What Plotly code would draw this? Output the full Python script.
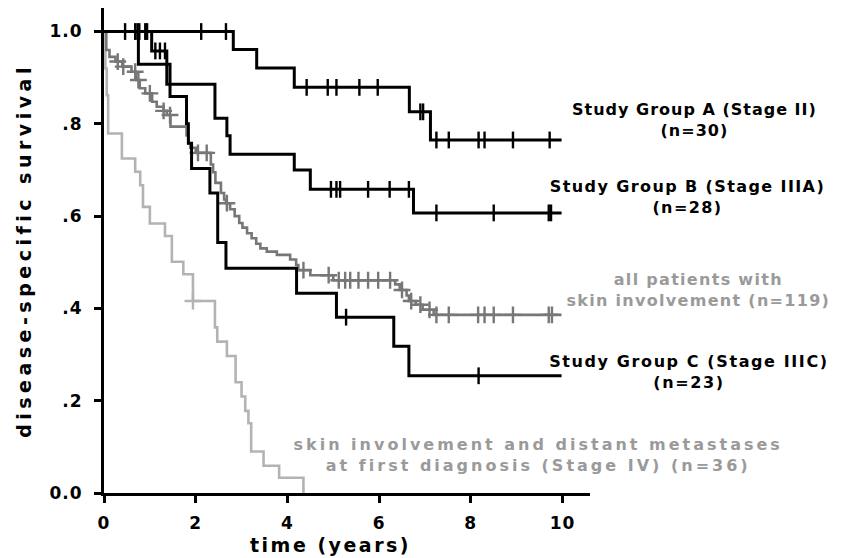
import numpy as np
import plotly.graph_objects as go

# ---------------- data ----------------
# Study Group A (Stage II), n=30
a_times = [2.82, 3.33, 4.15, 6.66, 7.12]
a_surv = [0.961, 0.921, 0.879, 0.826, 0.765]
a_cens = [0.46, 0.68, 0.73, 0.77, 0.90, 0.94, 2.12, 2.66, 4.42, 4.88, 5.07, 5.57, 5.97,
          6.90, 6.96, 7.25, 7.52, 8.17, 8.30, 8.92, 9.72]
a_end = 9.98

# Study Group B (Stage IIIA), n=28
b_times = [1.04, 1.37, 2.42, 2.68, 2.75, 4.15, 4.50, 6.75]
b_surv = [0.958, 0.886, 0.812, 0.774, 0.734, 0.700, 0.658, 0.607]
b_cens = [1.12, 1.22, 1.33, 4.95, 5.07, 5.15, 5.76, 6.23, 6.65, 7.25, 8.50, 9.70, 9.75]
b_end = 9.98

# Study Group C (Stage IIIC), n=23
c_times = [0.75, 1.44, 1.80, 1.84, 1.91, 2.31, 2.48, 2.66, 4.20, 5.07, 6.32, 6.65]
c_surv = [0.929, 0.859, 0.800, 0.758, 0.703, 0.650, 0.543, 0.487, 0.433, 0.381, 0.318, 0.254]
c_cens = [5.28, 8.17]
c_end = 9.98

# all patients with skin involvement, n=119
p_times = [0.05, 0.12, 0.25, 0.40, 0.60, 0.70, 0.78, 0.90, 1.05, 1.15, 1.30, 1.37, 1.45,
           1.80, 1.84, 1.88, 2.00, 2.33, 2.38, 2.43, 2.55, 2.62, 2.66, 2.75, 2.85, 2.95,
           3.02, 3.12, 3.22, 3.32, 3.41, 3.55, 3.77, 4.06, 4.19, 4.24, 4.50, 5.00, 6.35,
           6.45, 6.60, 6.65, 6.80, 6.95, 7.19]
p_surv = [0.960, 0.945, 0.935, 0.924, 0.913, 0.895, 0.877, 0.866, 0.848, 0.837, 0.828,
          0.819, 0.794, 0.775, 0.758, 0.748, 0.737, 0.712, 0.695, 0.672, 0.650, 0.636,
          0.628, 0.615, 0.600, 0.585, 0.575, 0.563, 0.552, 0.540, 0.530, 0.523, 0.516,
          0.506, 0.494, 0.483, 0.472, 0.461, 0.452, 0.440, 0.428, 0.416, 0.408, 0.397,
          0.386]
p_cens = [0.30, 0.42, 0.68, 0.75, 1.00, 1.30, 1.44, 2.05, 2.24, 2.68, 4.35, 4.90, 5.12,
          5.26, 5.37, 5.55, 5.76, 5.98, 6.24, 6.50, 6.70, 6.90, 7.10, 7.25, 7.52, 8.16,
          8.30, 8.50, 8.92, 9.70, 9.77]
p_end = 9.98

# skin involvement and distant metastases at first diagnosis (Stage IV), n=36
d_times = [0.03, 0.06, 0.09, 0.39, 0.68, 0.79, 0.85, 1.00, 1.33, 1.48, 1.73, 1.94, 2.42,
           2.47, 2.68, 2.87, 3.00, 3.08, 3.15, 3.21, 3.48, 3.82, 4.35]
d_surv = [0.920, 0.862, 0.779, 0.725, 0.696, 0.667, 0.620, 0.584, 0.557, 0.501, 0.474,
          0.416, 0.359, 0.328, 0.297, 0.240, 0.209, 0.178, 0.151, 0.090, 0.059, 0.033,
          0.000]
d_cens = [1.94]
d_end = 4.35

x_ticks = [0, 2, 4, 6, 8, 10]
y_ticks = [0.0, 0.2, 0.4, 0.6, 0.8, 1.0]
y_ticklabels = ["0.0", ".2", ".4", ".6", ".8", "1.0"]

X_MAX = 10.6
Y_MAX = 1.051

# label text, centre position (time, survival), colour
labels = [
    ("Study Group A (Stage II)<br>(n=30)", 12.87, 0.808, "black"),
    ("Study Group B (Stage IIIA)<br>(n=28)", 12.72, 0.641, "black"),
    ("all patients with<br>skin involvement (n=119)", 12.97, 0.440, "#9a9a9a"),
    ("Study Group C (Stage IIIC)<br>(n=23)", 12.77, 0.262, "black"),
    ("skin involvement and distant metastases<br>at first diagnosis (Stage IV) (n=36)", 9.47, 0.082, "#9a9a9a"),
]
x_title = ("time (years)", 4.95, -0.112)

# ---------------- helpers ----------------
def step_path(times, surv, end):
    xs = [0.0] + list(times)
    ys = [1.0] + list(surv)
    if end > xs[-1]:
        xs.append(end)
        ys.append(ys[-1])
    return xs, ys

def surv_at(times, surv, t):
    idx = np.searchsorted(np.array(times), t, side="right")
    vals = [1.0] + list(surv)
    return vals[idx]

FONT = "DejaVu Sans"
fig = go.Figure()

curves = [
    (d_times, d_surv, d_cens, d_end, "#b3b3b3", 2.6, "cross-thin-open"),
    (p_times, p_surv, p_cens, p_end, "#777777", 2.6, "cross-thin-open"),
    (c_times, c_surv, c_cens, c_end, "black", 3.0, "line-ns-open"),
    (b_times, b_surv, b_cens, b_end, "black", 3.0, "line-ns-open"),
    (a_times, a_surv, a_cens, a_end, "black", 3.0, "line-ns-open"),
]
for times, surv, cens, end, col, lw, sym in curves:
    xs, ys = step_path(times, surv, end)
    fig.add_trace(go.Scatter(x=xs, y=ys, mode="lines", line=dict(color=col, width=lw, shape="hv"),
                             hoverinfo="skip", showlegend=False, cliponaxis=False))
    cy = [surv_at(times, surv, t) for t in cens]
    fig.add_trace(go.Scatter(x=cens, y=cy, mode="markers",
                             marker=dict(symbol=sym, size=12, color=col, line=dict(color=col, width=2.4)),
                             hoverinfo="skip", showlegend=False, cliponaxis=False))

for text, x, y, col in labels:
    fig.add_annotation(x=x / X_MAX, y=y / Y_MAX, xref="paper", yref="paper", text=text,
                       showarrow=False, xanchor="center", yanchor="middle", align="center",
                       font=dict(family=FONT, size=16, color=col, weight="bold"))
fig.add_annotation(x=x_title[1] / X_MAX, y=x_title[2] / Y_MAX, xref="paper", yref="paper",
                   text=x_title[0], showarrow=False, xanchor="center", yanchor="middle",
                   font=dict(family=FONT, size=19, color="black", weight="bold"))

# the page body adds an 8 px offset, so the figure is 8 px smaller on each side
fig.update_layout(
    width=833, height=550,
    margin=dict(l=96, r=251, t=0, b=65, autoexpand=False),
    paper_bgcolor="white", plot_bgcolor="white",
    font=dict(family=FONT, color="black"),
    xaxis=dict(range=[0, X_MAX], tickvals=x_ticks, ticktext=[str(v) for v in x_ticks],
               showgrid=False, zeroline=False, showline=True, linecolor="black", linewidth=3,
               ticks="outside", ticklen=7, tickwidth=3, tickcolor="black", ticklabelstandoff=6,
               tickfont=dict(family=FONT, size=17, weight="bold")),
    yaxis=dict(range=[0, Y_MAX], tickvals=y_ticks, ticktext=y_ticklabels,
               showgrid=False, zeroline=False, showline=True, linecolor="black", linewidth=3,
               ticks="outside", ticklen=7, tickwidth=3, tickcolor="black", ticklabelstandoff=8,
               tickfont=dict(family=FONT, size=17, weight="bold"),
               title=dict(text="disease-specific survival", font=dict(family=FONT, size=19, weight="bold"), standoff=16)),
)

post = """
var gd = document.getElementById('{plot_id}');
function ls(sel, v){ gd.querySelectorAll(sel).forEach(function(e){ e.style.letterSpacing = v; }); }
var sp = ['1.0px', '1.4px', '1.3px', '1.6px', '3px', '2.5px'];
gd.querySelectorAll('.annotation-text').forEach(function(e, i){ e.style.letterSpacing = sp[i] || '1.6px'; });
ls('.ytitle', '4.5px');
ls('.xtick text', '1px');
ls('.ytick text', '1px');
"""
fig.write_html("out.html", post_script=post)
